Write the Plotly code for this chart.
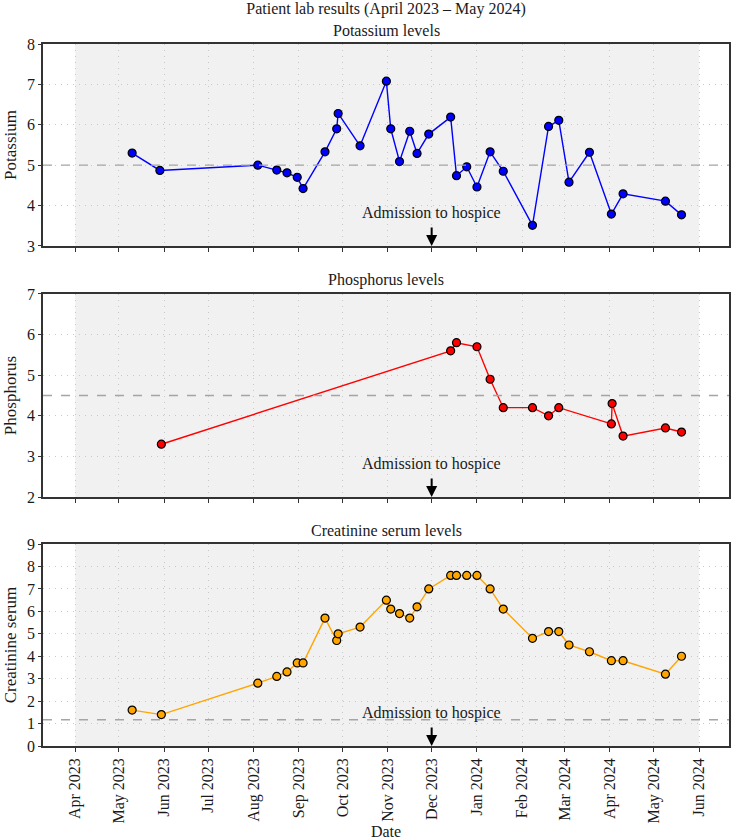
import plotly.graph_objects as go
from plotly.subplots import make_subplots

# ---------------- data ----------------
k_dates = ["2023-05-10", "2023-05-29", "2023-08-04", "2023-08-17", "2023-08-24", "2023-08-31",
           "2023-09-04", "2023-09-19", "2023-09-27", "2023-09-28", "2023-10-13", "2023-10-31",
           "2023-11-03", "2023-11-09", "2023-11-16", "2023-11-21", "2023-11-29", "2023-12-14",
           "2023-12-18", "2023-12-25", "2024-01-01", "2024-01-10", "2024-01-19", "2024-02-08",
           "2024-02-19", "2024-02-26", "2024-03-04", "2024-03-18", "2024-04-02", "2024-04-10",
           "2024-05-09", "2024-05-20"]
k_values = [5.3, 4.87, 5.0, 4.88, 4.81, 4.7, 4.42, 5.33, 5.9, 6.28, 5.48, 7.08,
            5.9, 5.09, 5.84, 5.29, 5.77, 6.19, 4.74, 4.96, 4.46, 5.33, 4.85, 3.51,
            5.96, 6.11, 4.58, 5.32, 3.79, 4.29, 4.11, 3.77]

p_dates = ["2023-05-30", "2023-12-14", "2023-12-18", "2024-01-01", "2024-01-10", "2024-01-19",
           "2024-02-08", "2024-02-19", "2024-02-26", "2024-04-02", "2024-04-02 12:00",
           "2024-04-10", "2024-05-09", "2024-05-20"]
p_values = [3.3, 5.6, 5.8, 5.7, 4.9, 4.2, 4.2, 4.0, 4.2, 3.8, 4.3, 3.5, 3.7, 3.6]

c_dates = ["2023-05-10", "2023-05-30", "2023-08-04", "2023-08-17", "2023-08-24", "2023-08-31",
           "2023-09-04", "2023-09-19", "2023-09-27", "2023-09-28", "2023-10-13", "2023-10-31",
           "2023-11-03", "2023-11-09", "2023-11-16", "2023-11-21", "2023-11-29", "2023-12-14",
           "2023-12-18", "2023-12-25", "2024-01-01", "2024-01-10", "2024-01-19", "2024-02-08",
           "2024-02-19", "2024-02-26", "2024-03-04", "2024-03-18", "2024-04-02", "2024-04-10",
           "2024-05-09", "2024-05-20"]
c_values = [1.6, 1.4, 2.8, 3.1, 3.3, 3.7, 3.7, 5.7, 4.7, 5.0, 5.3, 6.5,
            6.1, 5.9, 5.7, 6.2, 7.0, 7.6, 7.6, 7.6, 7.6, 7.0, 6.1, 4.8,
            5.1, 5.1, 4.5, 4.2, 3.8, 3.8, 3.2, 4.0]

panel_titles = ["Potassium levels", "Phosphorus levels", "Creatinine serum levels"]
y_titles = ["Potassium", "Phosphorus", "Creatinine serum"]
y_ranges = [[3, 8], [2, 7], [0, 9]]
ref_levels = [5.0, 4.5, 1.17]
colors = ["#0000ff", "#ff0000", "#ffa500"]
admission_date = "2023-12-01"
shade_start, shade_end = "2023-04-01", "2024-06-01"
x_range = ["2023-03-10", "2024-06-21 12:00"]

FONT = "Liberation Serif, Times New Roman, serif"
TXT = "#1a1a1a"

# ---------------- figure ----------------
fig = make_subplots(rows=3, cols=1, shared_xaxes=True, vertical_spacing=0.05)

domains = [[0.7123, 1.0], [0.3547, 0.6439], [0.0, 0.2877]]
series = [(k_dates, k_values), (p_dates, p_values), (c_dates, c_values)]

for i, (dates, vals) in enumerate(series):
    r = i + 1
    fig.add_trace(go.Scatter(
        x=dates, y=vals, mode="lines+markers",
        line=dict(color=colors[i], width=1.4),
        marker=dict(color=colors[i], size=8, line=dict(color="black", width=1.2)),
        showlegend=False), row=r, col=1)

    yname = "y" if r == 1 else f"y{r}"
    xname = "x" if r == 1 else f"x{r}"

    # shaded study period
    fig.add_shape(type="rect", xref=xname, yref=f"{yname} domain",
                  x0=shade_start, x1=shade_end, y0=0, y1=1,
                  fillcolor="#f1f1f1", line=dict(width=0), layer="below")
    # reference line
    fig.add_shape(type="line", xref=f"{xname} domain", yref=yname,
                  x0=0, x1=1, y0=ref_levels[i], y1=ref_levels[i],
                  line=dict(color="#a5a5a5", width=1.3, dash="dash"), layer="above")
    # admission arrow
    fig.add_annotation(x=admission_date, y=0, xref=xname, yref=f"{yname} domain",
                       text="", showarrow=True, ax=0, ay=-20,
                       arrowhead=2, arrowsize=1.1, arrowwidth=2, arrowcolor="black")
    fig.add_annotation(x=admission_date, y=0, xref=xname, yref=f"{yname} domain",
                       text="Admission to hospice", showarrow=False,
                       yanchor="middle", yshift=33, font=dict(family=FONT, size=16, color=TXT))
    # panel title
    fig.add_annotation(x=0.5, y=domains[i][1], xref="paper", yref="paper",
                       text=panel_titles[i], showarrow=False, yanchor="bottom",
                       yshift=3, font=dict(family=FONT, size=16, color=TXT))

    fig.update_yaxes(row=r, col=1, domain=domains[i], range=y_ranges[i], dtick=1,
                     title=dict(text=y_titles[i], font=dict(family=FONT, size=17, color=TXT),
                                standoff=6),
                     showgrid=True, gridcolor="#c8c8c8", griddash="1px,5px", gridwidth=1,
                     zeroline=False, showline=True, linecolor="#333", linewidth=1.5,
                     mirror=True, ticks="outside", ticklen=3, tickcolor="#333",
                     tickfont=dict(family=FONT, size=16, color=TXT))
    fig.update_xaxes(row=r, col=1, type="date", range=x_range,
                     tick0="2023-04-01", dtick="M1", tickformat="%b %Y", tickangle=-90,
                     showgrid=True, gridcolor="#c8c8c8", griddash="1px,5px", gridwidth=1,
                     zeroline=False, showline=True, linecolor="#333", linewidth=1.5,
                     mirror=True, ticks="outside", ticklen=4, tickcolor="#333",
                     showticklabels=(r == 3),
                     tickfont=dict(family=FONT, size=16, color=TXT))

fig.update_xaxes(row=3, col=1, title=dict(text="Date", font=dict(family=FONT, size=16, color=TXT),
                                          standoff=3))

fig.update_layout(width=732, height=840,
                  title=dict(text="Patient lab results (April 2023 – May 2024)",
                             x=0.5, xanchor="center", xref="paper",
                             y=1, yref="container", yanchor="top", pad=dict(t=3),
                             font=dict(family=FONT, size=16, color=TXT)),
                  margin=dict(l=43, r=1, t=44, b=94),
                  plot_bgcolor="white", paper_bgcolor="white",
                  font=dict(family=FONT, size=16, color=TXT))

fig.write_html("out.html")
